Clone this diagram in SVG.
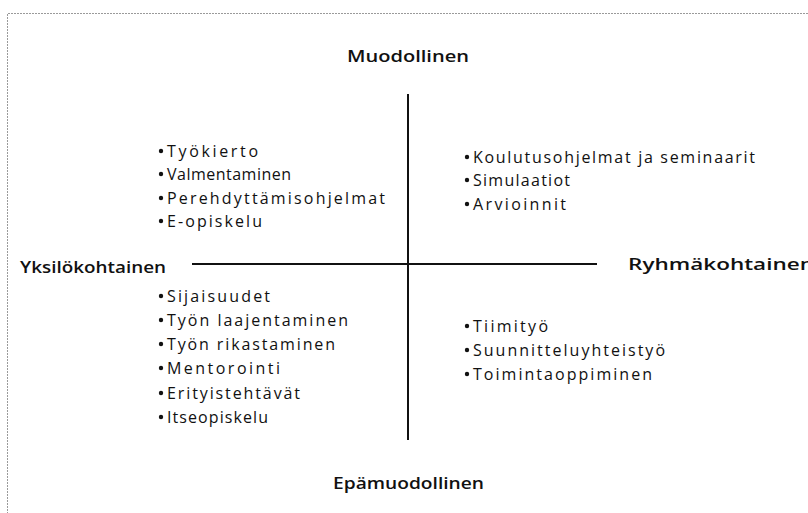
<svg xmlns="http://www.w3.org/2000/svg" width="808" height="513" viewBox="0 0 808 513">
  <style>
    .frame { fill: none; stroke: #9a9a9a; stroke-width: 1; stroke-dasharray: 2 1; }
    .axis { stroke: #111; stroke-width: 2; }
    .head { font-family: "Open Sans", "DejaVu Sans", sans-serif; font-size: 15.5px; font-weight: 600; fill: #111; }
    .item { font-family: "Open Sans", "DejaVu Sans", sans-serif; font-size: 16px; fill: #111; }
    .dot { fill: #111; }
  </style>
  <rect width="808" height="513" fill="#fff"/>
  <path class="frame" d="M7.5 520 V13.5 H812"/>

  <g id="connectors">
    <line class="axis" x1="408" y1="94" x2="408" y2="440"/>
    <line class="axis" x1="192" y1="264" x2="597" y2="264"/>
  </g>

  <g id="muodollinen"><text class="head" x="347" y="62" textLength="122" lengthAdjust="spacingAndGlyphs">Muodollinen</text></g>
  <g id="epamuodollinen"><text class="head" x="333" y="489" textLength="151" lengthAdjust="spacingAndGlyphs">Epämuodollinen</text></g>
  <g id="yksilokohtainen"><text class="head" x="20" y="273" textLength="146" lengthAdjust="spacingAndGlyphs">Yksilökohtainen</text></g>
  <g id="ryhmakohtainen"><text class="head" x="628" y="270" textLength="186" lengthAdjust="spacingAndGlyphs">Ryhmäkohtainen</text></g>

  <g id="quadrant-formal-individual">
    <circle class="dot" cx="161" cy="151" r="2.2"/><text class="item" x="167" y="157" textLength="91">Työkierto</text>
    <circle class="dot" cx="161" cy="174" r="2.2"/><text class="item" x="167" y="180" textLength="124">Valmentaminen</text>
    <circle class="dot" cx="161" cy="198" r="2.2"/><text class="item" x="167" y="204" textLength="218">Perehdyttämisohjelmat</text>
    <circle class="dot" cx="161" cy="221" r="2.2"/><text class="item" x="167" y="227" textLength="95">E-opiskelu</text>
  </g>

  <g id="quadrant-formal-group">
    <circle class="dot" cx="467" cy="157" r="2.2"/><text class="item" x="473" y="163" textLength="282">Koulutusohjelmat ja seminaarit</text>
    <circle class="dot" cx="467" cy="180" r="2.2"/><text class="item" x="473" y="186" textLength="97">Simulaatiot</text>
    <circle class="dot" cx="467" cy="204" r="2.2"/><text class="item" x="473" y="210" textLength="93">Arvioinnit</text>
  </g>

  <g id="quadrant-informal-individual">
    <circle class="dot" cx="161" cy="296" r="2.2"/><text class="item" x="167" y="302" textLength="103">Sijaisuudet</text>
    <circle class="dot" cx="161" cy="320" r="2.2"/><text class="item" x="167" y="326" textLength="181">Työn laajentaminen</text>
    <circle class="dot" cx="161" cy="344" r="2.2"/><text class="item" x="167" y="350" textLength="168">Työn rikastaminen</text>
    <circle class="dot" cx="161" cy="368" r="2.2"/><text class="item" x="167" y="374" textLength="113">Mentorointi</text>
    <circle class="dot" cx="161" cy="393" r="2.2"/><text class="item" x="167" y="399" textLength="133">Erityistehtävät</text>
    <circle class="dot" cx="161" cy="417" r="2.2"/><text class="item" x="167" y="423" textLength="101">Itseopiskelu</text>
  </g>

  <g id="quadrant-informal-group">
    <circle class="dot" cx="467" cy="326" r="2.2"/><text class="item" x="473" y="332" textLength="75">Tiimityö</text>
    <circle class="dot" cx="467" cy="350" r="2.2"/><text class="item" x="473" y="356" textLength="192">Suunnitteluyhteistyö</text>
    <circle class="dot" cx="467" cy="374" r="2.2"/><text class="item" x="473" y="380" textLength="179">Toimintaoppiminen</text>
  </g>
</svg>
